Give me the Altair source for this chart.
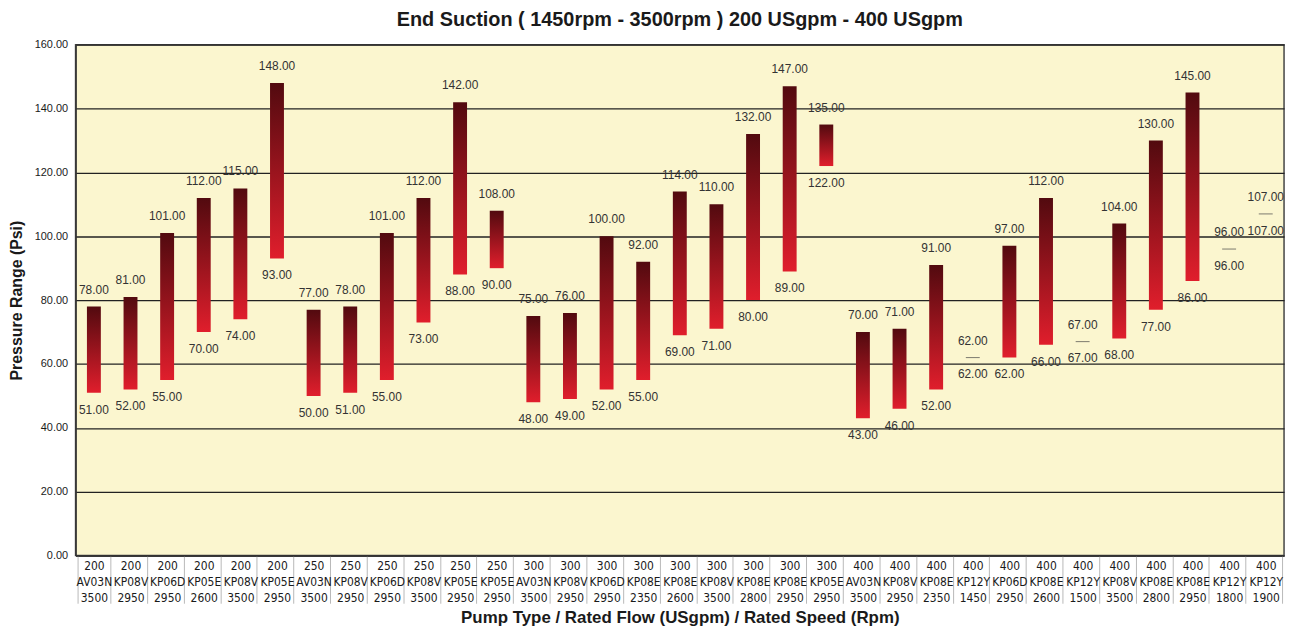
import altair as alt
import pandas as pd

flows = ["200","200","200","200","200","200","250","250","250","250","250","250",
         "300","300","300","300","300","300","300","300","300",
         "400","400","400","400","400","400","400","400","400","400","400","400"]
pumps = ["AV03N","KP08V","KP06D","KP05E","KP08V","KP05E",
         "AV03N","KP08V","KP06D","KP08V","KP05E","KP05E",
         "AV03N","KP08V","KP06D","KP08E","KP08E","KP08V","KP08E","KP08E","KP05E",
         "AV03N","KP08V","KP08E","KP12Y","KP06D","KP08E","KP12Y","KP08V","KP08E","KP08E","KP12Y","KP12Y"]
speeds = ["3500","2950","2950","2600","3500","2950",
          "3500","2950","2950","3500","2950","2950",
          "3500","2950","2950","2350","2600","3500","2800","2950","2950",
          "3500","2950","2350","1450","2950","2600","1500","3500","2800","2950","1800","1900"]
lows = [51,52,55,70,74,93, 50,51,55,73,88,90, 48,49,52,55,69,71,80,89,122,
        43,46,52,62,62,66,67,68,77,86,96,107]
highs = [78,81,101,112,115,148, 77,78,101,112,142,108, 75,76,100,92,114,110,132,147,135,
         70,71,91,62,97,112,67,104,130,145,96,107]

cats = [f"{i:02d}|{f}|{p}|{s}" for i, (f, p, s) in enumerate(zip(flows, pumps, speeds))]
df = pd.DataFrame({"cat": cats, "low": lows, "high": highs})

FONT = "Liberation Sans, Arial, sans-serif"
NARROW = "Liberation Sans Narrow, DejaVu Sans Condensed, Arial Narrow, sans-serif"

x_enc = alt.X("cat:N", sort=cats, scale=alt.Scale(domain=cats),
              axis=alt.Axis(title="Pump Type / Rated Flow (USgpm) / Rated Speed (Rpm)",
                            labelExpr="slice(split(datum.value, '|'), 1)",
                            labelAngle=0, labelBaseline="top", labelLineHeight=16,
                            labelFont=NARROW, labelFontSize=12, labelColor="#1a1a1a",
                            labelPadding=-43, tickBand="extent", tickSize=48,
                            tickColor="#b8b8b8", tickWidth=1,
                            domainColor="#333", domainWidth=1.5,
                            titleFont=FONT, titleFontSize=17, titleFontWeight="bold",
                            titleColor="#1a1a1a", titlePadding=6, labelOverlap=False))
y_scale = alt.Scale(domain=[0, 160], nice=False)
y_enc = alt.Y("low:Q", scale=y_scale,
              axis=alt.Axis(title="Pressure Range (Psi)", format=".2f",
                            values=[0, 20, 40, 60, 80, 100, 120, 140, 160],
                            ticks=False, labelPadding=8, labelFont=FONT, labelFontSize=11,
                            labelColor="#1a1a1a", gridColor="#222", gridWidth=1.3,
                            domainColor="#333", domainWidth=1.5,
                            titleFont=FONT, titleFontSize=16, titleFontWeight="bold",
                            titleColor="#1a1a1a", titlePadding=10))

grad = alt.Gradient(gradient="linear",
                    stops=[alt.GradientStop(offset=0, color="#520a0f"),
                           alt.GradientStop(offset=1, color="#e01e2c")],
                    x1=0, x2=0, y1=0, y2=1)

base = alt.Chart(df)
bars = base.transform_filter("datum.low != datum.high").mark_bar(size=14, color=grad).encode(
    x=x_enc, y=y_enc, y2="high:Q")
flat = base.transform_filter("datum.low == datum.high").mark_tick(
    size=14, thickness=1, color="#444", orient="horizontal").encode(x=x_enc, y=y_enc)
top_txt = base.mark_text(dy=-17, fontSize=12, font=FONT, color="#333").encode(
    x=x_enc, y=alt.Y("high:Q", scale=y_scale), text=alt.Text("high:Q", format=".2f"))
bot_txt = base.mark_text(dy=17, fontSize=12, font=FONT, color="#333").encode(
    x=x_enc, y=y_enc, text=alt.Text("low:Q", format=".2f"))

chart = alt.layer(bars, flat, top_txt, bot_txt).properties(
    width=1216, height=514,
    autosize=alt.AutoSizeParams(type="none"),
    padding={"left": 68, "top": 35, "right": 7, "bottom": 74},
    background="white",
    title=alt.TitleParams("End Suction ( 1450rpm - 3500rpm ) 200 USgpm - 400 USgpm",
                          font=FONT, fontSize=20, fontWeight="bold", color="#1a1a1a",
                          offset=9),
).configure_view(fill="#fbf6cf", stroke="#444", strokeWidth=1.5)

chart.save("out.html", embed_options={"renderer": "svg", "actions": False})
